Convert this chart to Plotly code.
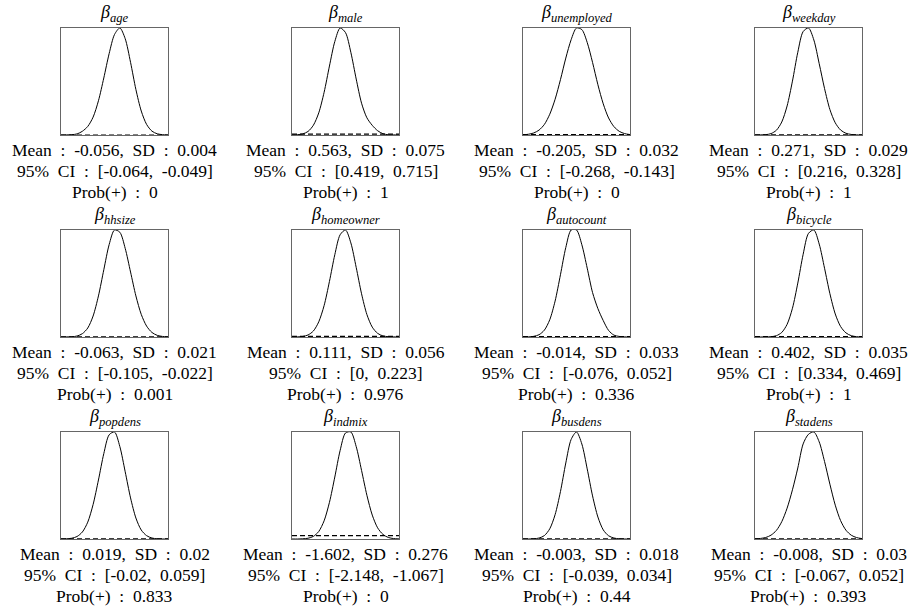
import numpy as np
import plotly.graph_objects as go

# ---------------- data ----------------
names = ["age", "male", "unemployed", "weekday",
         "hhsize", "homeowner", "autocount", "bicycle",
         "popdens", "indmix", "busdens", "stadens"]
means = [-0.056, 0.563, -0.205, 0.271, -0.063, 0.111, -0.014, 0.402,
         0.019, -1.602, -0.003, -0.008]
sds = [0.004, 0.075, 0.032, 0.029, 0.021, 0.056, 0.033, 0.035,
       0.02, 0.276, 0.018, 0.03]
ci_low = [-0.064, 0.419, -0.268, 0.216, -0.105, 0, -0.076, 0.334,
          -0.02, -2.148, -0.039, -0.067]
ci_high = [-0.049, 0.715, -0.143, 0.328, -0.022, 0.223, 0.052, 0.469,
           0.059, -1.067, 0.034, 0.052]
prob_pos = [0, 1, 0, 1, 0.001, 0.976, 0.336, 1, 0.833, 0, 0.44, 0.393]

# plotted parameter range of each density panel
x_min = [-0.0735, 0.285, -0.319, 0.154, -0.149, -0.117, -0.140, 0.244,
         -0.062, -2.775, -0.081, -0.119]
x_max = [-0.0415, 0.885, -0.101, 0.396, 0.018, 0.350, 0.126, 0.541,
         0.105, -0.549, 0.077, 0.088]

# posterior density (relative to its peak), read at 21 evenly spaced points
dens_age = [0, 0.001, 0.003, 0.010, 0.035, 0.080, 0.167, 0.320, 0.533, 0.761,
            0.939, 1.0, 0.900, 0.679, 0.425, 0.224, 0.099, 0.036, 0.011, 0.003, 0]
dens_male = [0.001, 0.003, 0.010, 0.033, 0.091, 0.206, 0.397, 0.642, 0.870, 0.996,
             0.953, 0.769, 0.521, 0.296, 0.160, 0.090, 0.040, 0.012, 0.002, 0.001, 0]
dens_unemployed = [0.002, 0.007, 0.019, 0.046, 0.099, 0.194, 0.334, 0.517, 0.719, 0.891,
                   1.0, 0.985, 0.865, 0.678, 0.470, 0.291, 0.159, 0.078, 0.034, 0.013, 0.004]
dens_weekday = [0, 0.001, 0.003, 0.013, 0.044, 0.120, 0.269, 0.499, 0.766, 0.958,
                0.991, 0.880, 0.661, 0.430, 0.236, 0.113, 0.046, 0.016, 0.005, 0.001, 0]
dens_hhsize = [0, 0.001, 0.002, 0.009, 0.031, 0.083, 0.194, 0.380, 0.622, 0.855,
               0.990, 0.969, 0.820, 0.601, 0.380, 0.209, 0.101, 0.042, 0.015, 0.005, 0.001]
dens_homeowner = [0, 0.001, 0.005, 0.019, 0.056, 0.141, 0.292, 0.517, 0.765, 0.951,
                  0.995, 0.875, 0.647, 0.402, 0.209, 0.092, 0.034, 0.010, 0.003, 0.001, 0]
dens_autocount = [0, 0.001, 0.006, 0.021, 0.063, 0.158, 0.329, 0.570, 0.820, 0.980,
                  0.980, 0.845, 0.631, 0.407, 0.260, 0.150, 0.060, 0.017, 0.005, 0.001, 0]
dens_bicycle = [0, 0, 0.001, 0.003, 0.012, 0.042, 0.117, 0.266, 0.499, 0.765,
                0.959, 0.990, 0.860, 0.636, 0.401, 0.213, 0.097, 0.038, 0.012, 0.003, 0.001]
dens_popdens = [0, 0.002, 0.007, 0.023, 0.065, 0.156, 0.319, 0.546, 0.790, 0.964,
                0.990, 0.855, 0.622, 0.380, 0.194, 0.083, 0.031, 0.009, 0.002, 0, 0]
dens_indmix = [0, 0, 0.002, 0.007, 0.024, 0.069, 0.167, 0.337, 0.570, 0.815,
               0.975, 0.984, 0.850, 0.631, 0.402, 0.220, 0.103, 0.042, 0.014, 0.004, 0.001]
dens_busdens = [0, 0, 0.002, 0.009, 0.032, 0.095, 0.227, 0.442, 0.709, 0.929,
                0.998, 0.886, 0.654, 0.402, 0.205, 0.085, 0.030, 0.009, 0.002, 0, 0]
dens_stadens = [0.002, 0.005, 0.014, 0.036, 0.080, 0.161, 0.287, 0.458, 0.661, 0.885,
                0.975, 0.996, 0.904, 0.721, 0.510, 0.315, 0.171, 0.082, 0.035, 0.013, 0.004]
densities = [dens_age, dens_male, dens_unemployed, dens_weekday,
             dens_hhsize, dens_homeowner, dens_autocount, dens_bicycle,
             dens_popdens, dens_indmix, dens_busdens, dens_stadens]

# prior density (relative to the posterior peak)
prior_level = [0.0004, 0.008, 0.004, 0.003, 0.002, 0.006, 0.004, 0.004,
               0.002, 0.031, 0.002, 0.003]

# ---------------- layout ----------------
W, H = 911, 607
col_left = [61, 292, 523, 755]
row_top = [28, 230, 432]
box = 107
FONT = "Liberation Serif, DejaVu Serif, serif"
SP = "\u2002"  # wide space, like the math-mode spacing of the original

fig = go.Figure()
annotations = []
layout_axes = {}

for i, name in enumerate(names):
    r, c = divmod(i, 4)
    ax = i + 1
    xa = "x" if ax == 1 else f"x{ax}"
    ya = "y" if ax == 1 else f"y{ax}"
    x0, x1 = col_left[c], col_left[c] + box
    y0, y1 = row_top[r], row_top[r] + box

    dens = densities[i]
    xs = np.linspace(x_min[i], x_max[i], len(dens))
    fig.add_trace(go.Scatter(x=xs, y=dens, mode="lines",
                             line=dict(color="black", width=1.0, shape="spline", smoothing=0.8),
                             xaxis=xa, yaxis=ya, showlegend=False, hoverinfo="skip"))
    fig.add_trace(go.Scatter(x=[x_min[i], x_max[i]], y=[prior_level[i], prior_level[i]],
                             mode="lines",
                             line=dict(color="black", width=1.1, dash="5px,3px"),
                             xaxis=xa, yaxis=ya, showlegend=False, hoverinfo="skip"))

    axstyle = dict(showline=True, mirror=True, linecolor="#666666", linewidth=1,
                   showgrid=False, zeroline=False, showticklabels=False, ticks="",
                   fixedrange=True)
    layout_axes["xaxis" if ax == 1 else f"xaxis{ax}"] = dict(
        domain=[x0 / W, x1 / W], range=[x_min[i], x_max[i]], anchor=ya, **axstyle)
    layout_axes["yaxis" if ax == 1 else f"yaxis{ax}"] = dict(
        domain=[1 - y1 / H, 1 - y0 / H], range=[0, max(dens)], anchor=xa, **axstyle)

    cx = (x0 + x1) / 2 / W
    annotations.append(dict(
        text=f"<i>β</i><sub><i>{name}</i></sub>", x=cx, y=1 - (y0 - 1) / H,
        xref="paper", yref="paper", xanchor="center", yanchor="bottom",
        showarrow=False, font=dict(family=FONT, size=18, color="black")))
    lines = [f"Mean{SP}:{SP}{means[i]},{SP}SD{SP}:{SP}{sds[i]}",
             f"95%{SP}CI{SP}:{SP}[{ci_low[i]},{SP}{ci_high[i]}]",
             f"Prob(+){SP}:{SP}{prob_pos[i]}"]
    for k, t in enumerate(lines):
        annotations.append(dict(
            text=t, x=cx, y=1 - (y1 + 15 + 21 * k) / H,
            xref="paper", yref="paper", xanchor="center", yanchor="middle",
            showarrow=False, font=dict(family=FONT, size=17.5, color="black")))

fig.update_layout(width=W, height=H, autosize=False,
                  margin=dict(l=0, r=0, t=0, b=0),
                  paper_bgcolor="white", plot_bgcolor="white",
                  font=dict(family=FONT),
                  annotations=annotations, **layout_axes)

fig.write_html("out.html",
               config={"displayModeBar": False},
               post_script="document.body.style.margin='0px';document.body.style.overflow='hidden';")
